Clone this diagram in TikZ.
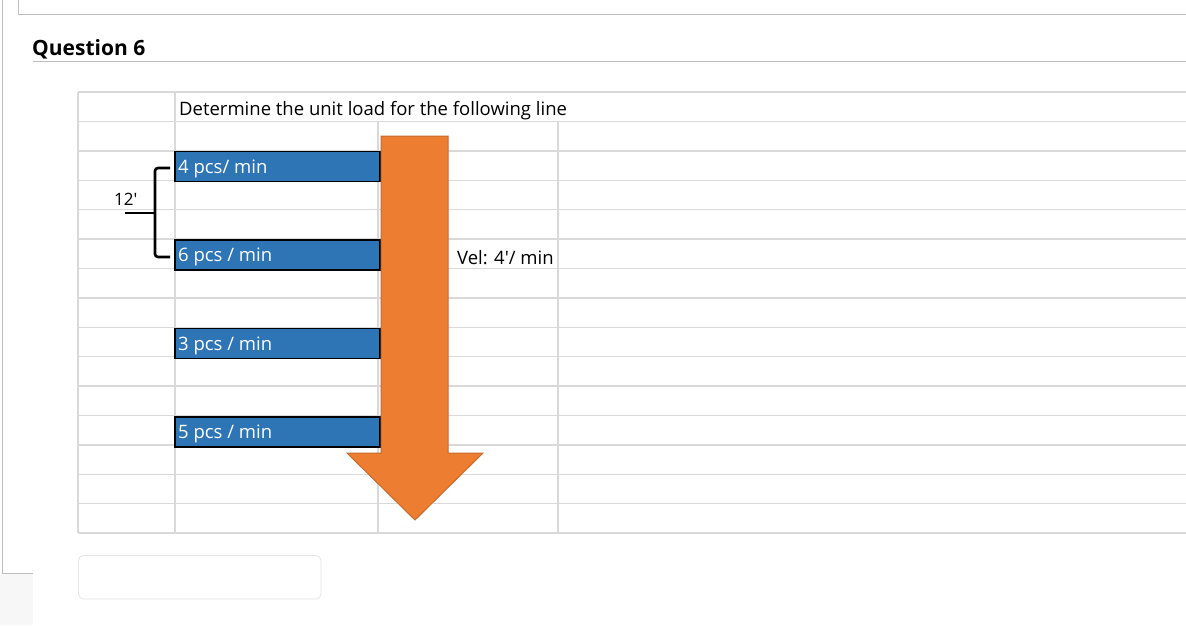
\documentclass[tikz,border=0pt]{standalone}
\usepackage{fontspec}
\setmainfont{Open Sans}
\newfontfamily\qfont{Open Sans}
\definecolor{gridc}{HTML}{D9D9D9}
\definecolor{boxblue}{HTML}{2E75B6}
\definecolor{arrorange}{HTML}{ED7D31}
\definecolor{arredge}{HTML}{C9692A}
\definecolor{frame}{HTML}{BDBDBD}
\begin{document}
\begin{tikzpicture}[x=1pt,y=-1pt,
  gridline/.style={draw=gridc,line width=1.4pt},
  bluebox/.style={draw=black,line width=1.6pt,fill=boxblue,minimum width=205pt,minimum height=30pt,inner sep=0pt},
  boxtext/.style={anchor=west,text=white,font=\fontsize{18.5}{19}\selectfont,inner sep=0pt},
  celltext/.style={anchor=west,text=black,font=\fontsize{18.5}{19}\selectfont,inner sep=0pt}]
\useasboundingbox (0,0) rectangle (1186,625);
% page frame pieces
\fill[white] (0,0) rectangle (1186,625);
\fill[black!3] (0,573) rectangle (33,625);
\draw[frame,line width=1pt] (2,0) -- (2,573) -- (33,573);
\draw[frame,line width=1pt] (18,-2) -- (18,14) -- (1190,14);
% title
\node[anchor=west,inner sep=0pt,font=\qfont\bfseries\fontsize{21}{22}\selectfont] (title) at (32,49) {Question 6};
\draw[frame,line width=0.8pt] (33,61) -- (1186,61);
% grid
\foreach \i in {0,...,15} {
  \draw[gridline] (78,{92+\i*29.4}) -- (1186,{92+\i*29.4});
}
\draw[gridline] (78,92) -- (78,533);
\draw[gridline] (175,92) -- (175,533);
\draw[gridline] (378,121.4) -- (378,533);
\draw[gridline] (558,121.4) -- (558,533);
% texts in cells
\node[celltext] (task) at (179,110.5) {Determine the unit load for the following line};
\node[celltext] (vel) at (457,257.5) {Vel: 4\textquotesingle/ min};
% blue boxes
\node[bluebox,anchor=north west] (b1) at (174,150.5) {};
\node[bluebox,anchor=north west] (b2) at (174,239) {};
\node[bluebox,anchor=north west] (b3) at (174,327.5) {};
\node[bluebox,anchor=north west] (b4) at (174,416) {};
\node[boxtext] at ([xshift=4pt,yshift=-2.5pt]b1.west) {4 pcs/ min};
\node[boxtext] at ([xshift=4pt,yshift=-2.5pt]b2.west) {6 pcs / min};
\node[boxtext] at ([xshift=4pt,yshift=-2.5pt]b3.west) {3 pcs / min};
\node[boxtext] at ([xshift=4pt,yshift=-2.5pt]b4.west) {5 pcs / min};
% arrow
\draw[fill=arrorange,draw=arredge,line width=1pt,line join=miter]
  (381,136) -- (448,136) -- (448,453) -- (483,453) -- (415,520) -- (347,453) -- (381,453) -- cycle;
% bracket
\coordinate (bt) at (170,168);
\coordinate (bb) at (170,257);
\draw[black,line width=2.6pt,rounded corners=3pt] (bt) -- (155,168) -- (155,257) -- (bb);
\draw[black,line width=2.6pt] (125,213) -- (155,213);
\node[anchor=west,inner sep=0pt,font=\fontsize{17}{18}\selectfont] (len) at (114,199) {12\textquotesingle};
% answer box
\draw[draw=black!10,line width=0.8pt,rounded corners=5pt] (78.5,555.5) rectangle (321,599);
\end{tikzpicture}
\end{document}
